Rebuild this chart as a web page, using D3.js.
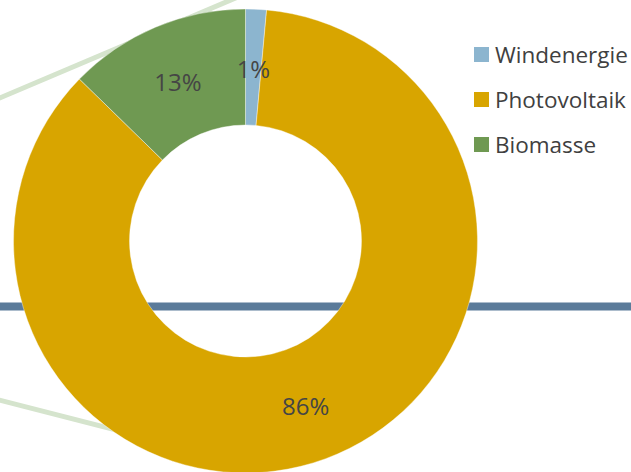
<!DOCTYPE html>
<html>
<head>
<meta charset="utf-8">
<script src="https://cdn.jsdelivr.net/npm/d3@7"></script>
<style>
  html, body { margin: 0; padding: 0; background: #ffffff; }
  svg { display: block; }
  text { font-family: "Open Sans", "Noto Sans", sans-serif; }
</style>
</head>
<body>
<svg id="chart" width="631" height="472"></svg>
<script>
// ---- data ----
const categories = ["Windenergie", "Photovoltaik", "Biomasse"];
const values = [1.45, 85.85, 12.7];
const colors = ["#8cb5cf", "#d8a500", "#6f9952"];

// ---- layout ----
const W = 631, H = 472;
const cx = 245.5, cy = 241;
const outerR = 232, innerR = 116;

const svg = d3.select("#chart");

// background decoration lines
svg.append("line")
  .attr("x1", -5).attr("y1", 100).attr("x2", 245).attr("y2", -6)
  .attr("stroke", "#d5e4cd").attr("stroke-width", 5);
svg.append("line")
  .attr("x1", -5).attr("y1", 399).attr("x2", 245).attr("y2", 463)
  .attr("stroke", "#d5e4cd").attr("stroke-width", 5);
svg.append("line")
  .attr("x1", 0).attr("y1", 306.5).attr("x2", W).attr("y2", 306.5)
  .attr("stroke", "#5b7b9a").attr("stroke-width", 8);

const data = categories.map((c, i) => ({ name: c, value: values[i], color: colors[i] }));
const total = d3.sum(values);

const pie = d3.pie().sort(null).value(d => d.value);
const arc = d3.arc().innerRadius(innerR).outerRadius(outerR);
const labelArc = d3.arc().innerRadius((innerR + outerR) / 2).outerRadius((innerR + outerR) / 2);

const g = svg.append("g").attr("transform", `translate(${cx},${cy})`);
const arcs = pie(data);

g.selectAll("path.slice").data(arcs).join("path")
  .attr("class", "slice")
  .attr("d", arc)
  .attr("fill", d => d.data.color)
  .attr("stroke", "#ffffff")
  .attr("stroke-width", 0.4);

g.selectAll("text.lbl").data(arcs).join("text")
  .attr("class", "lbl")
  .attr("transform", d => `translate(${labelArc.centroid(d)})`)
  .attr("text-anchor", "middle")
  .attr("dy", "0.45em")
  .attr("font-size", 24)
  .attr("fill", "#454545")
  .text(d => Math.round(d.data.value / total * 100) + "%");

// legend
const legend = svg.append("g").attr("transform", "translate(474,47)");
const rowH = 45;
const items = legend.selectAll("g").data(data).join("g")
  .attr("transform", (d, i) => `translate(0,${i * rowH})`);
items.append("rect")
  .attr("width", 15).attr("height", 15)
  .attr("fill", d => d.color);
items.append("text")
  .attr("x", 21).attr("y", 7.5).attr("dy", "0.38em")
  .attr("font-size", 22.5)
  .attr("fill", "#404040")
  .text(d => d.name);
</script>
</body>
</html>
